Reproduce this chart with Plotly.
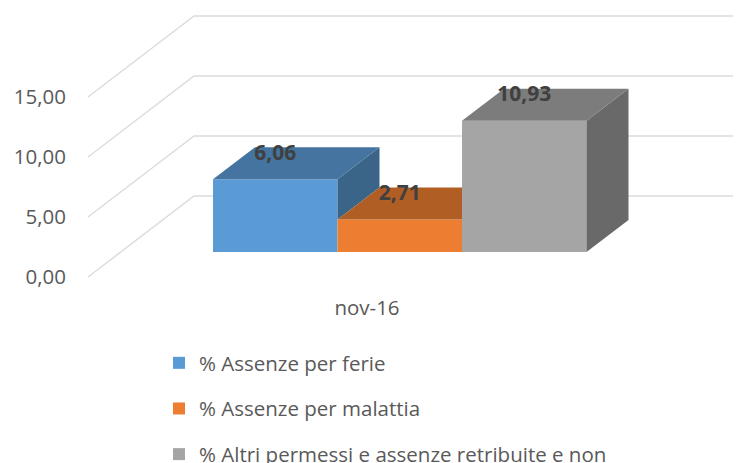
import plotly.graph_objects as go

# --- data ---
category_label = ["nov-16"]
series_names = ["% Assenze per ferie", "% Assenze per malattia", "% Altri permessi e assenze retribuite e non"]
series_values = [6.06, 2.71, 10.93]
y_ticks = [0, 5, 10, 15]

# --- styles ---
front_colors = ["#5B9BD5", "#ED7D31", "#A5A5A5"]
top_colors = ["#44749F", "#B15E24", "#7C7C7C"]
side_colors = ["#3A6588", "#9A5220", "#696969"]
GRID = "#DCDCDC"
FONT = "Open Sans"
TICK_COLOR = "#595959"

# --- layout geometry (window pixels; the page body adds 8px around the figure) ---
PAGE_MARGIN = 8
WIN_W = 741
FIG_BOTTOM = 485     # a little past the window so the legend needs no extra margin
W, H = WIN_W - PAGE_MARGIN, FIG_BOTTOM - PAGE_MARGIN
PLOT_L = 67
AXIS_PX = 293
PX_PER_VALUE = 12.0
ZERO_PX = 277.0
BAR_W_PX = 124.5
BAR0_PX = 213.0
WALL_PX = 88.0


def dx(px):
    return px / BAR_W_PX


def dy(px):
    return px / PX_PER_VALUE


x_min = dx(PLOT_L - BAR0_PX)
x_max = dx(WIN_W - BAR0_PX)
y_min = dy(ZERO_PX - FIG_BOTTOM)
y_max = dy(ZERO_PX - PAGE_MARGIN)

wall_x = dx(WALL_PX - BAR0_PX)
wall_dx, wall_dy = dx(106), dy(81)
lift = dy(ZERO_PX - 252)
depth_x, depth_y = dx(42), dy(32)

fig = go.Figure()

shapes = []
for t in y_ticks:
    shapes.append(dict(
        type="path", layer="below", xref="x", yref="y",
        path=f"M {wall_x},{t} L {wall_x + wall_dx},{t + wall_dy} L {x_max},{t + wall_dy}",
        line=dict(color=GRID, width=1.5),
    ))

for i, (name, v) in enumerate(zip(series_names, series_values)):
    fig.add_trace(go.Bar(
        x=[i + 0.5], y=[v], base=[lift], width=[1.0], name=name,
        marker=dict(color=front_colors[i], line=dict(width=0)),
        legendgroup=name, hoverinfo="name+y",
    ))

n = len(series_values)
for i, v in enumerate(series_values):
    top = lift + v
    x0, x1 = float(i), float(i + 1)
    xr = x1 + depth_x
    next_taller = i + 1 < n and series_values[i + 1] > v
    xs = [x0, x0 + depth_x, x1 if next_taller else xr, x1, x0]
    ys = [top, top + depth_y, top + depth_y, top, top]
    if i == n - 1:
        sx = [x1, xr, xr, x1, x1]
        sy = [top, top + depth_y, lift + depth_y, lift, top]
    elif not next_taller:
        nxt = lift + series_values[i + 1]
        sx = [x1, xr, xr, x1, x1]
        sy = [top, top + depth_y, nxt + depth_y, nxt, top]
    else:
        sx = sy = None
    if sx:
        fig.add_trace(go.Scatter(
            x=sx, y=sy, mode="lines", fill="toself", fillcolor=side_colors[i],
            line=dict(width=0), showlegend=False, hoverinfo="skip",
        ))
    fig.add_trace(go.Scatter(
        x=xs, y=ys, mode="lines", fill="toself", fillcolor=top_colors[i],
        line=dict(width=0), showlegend=False, hoverinfo="skip",
    ))

fig.add_trace(go.Scatter(
    x=[i + 0.5 for i in range(n)],
    y=[lift + v + dy(25) for v in series_values],
    mode="text",
    text=[f"{v:.2f}".replace(".", ",") for v in series_values],
    textfont=dict(family=FONT, size=21, color="#404040", weight="bold"),
    showlegend=False, hoverinfo="skip",
))

fig.update_layout(
    width=W, height=H,
    margin=dict(l=PLOT_L - PAGE_MARGIN, r=0, t=0, b=0, pad=0),
    paper_bgcolor="white", plot_bgcolor="white",
    separators=",.",
    barmode="overlay",
    shapes=shapes,
    font=dict(family=FONT, color=TICK_COLOR, size=20),
    xaxis=dict(
        range=[x_min, x_max], showgrid=False, zeroline=False, showline=False,
        anchor="free", position=(FIG_BOTTOM - AXIS_PX) / H,
        tickmode="array", tickvals=[dx(367 - BAR0_PX)], ticktext=category_label,
        ticks="", tickfont=dict(size=20.5, color=TICK_COLOR),
    ),
    yaxis=dict(
        range=[y_min, y_max], showgrid=False, zeroline=False, showline=False,
        tickmode="array", tickvals=y_ticks, tickformat=".2f",
        ticks="", tickfont=dict(size=20.5, color=TICK_COLOR),
    ),
    legend=dict(
        orientation="v",
        x=(159 - PLOT_L) / (WIN_W - PLOT_L), xanchor="left",
        y=(FIG_BOTTOM - 343) / H, yanchor="top",
        tracegroupgap=16, font=dict(size=20.5, color=TICK_COLOR),
        bgcolor="rgba(0,0,0,0)",
    ),
)

fig.write_html("out.html", config=dict(displayModeBar=False))
